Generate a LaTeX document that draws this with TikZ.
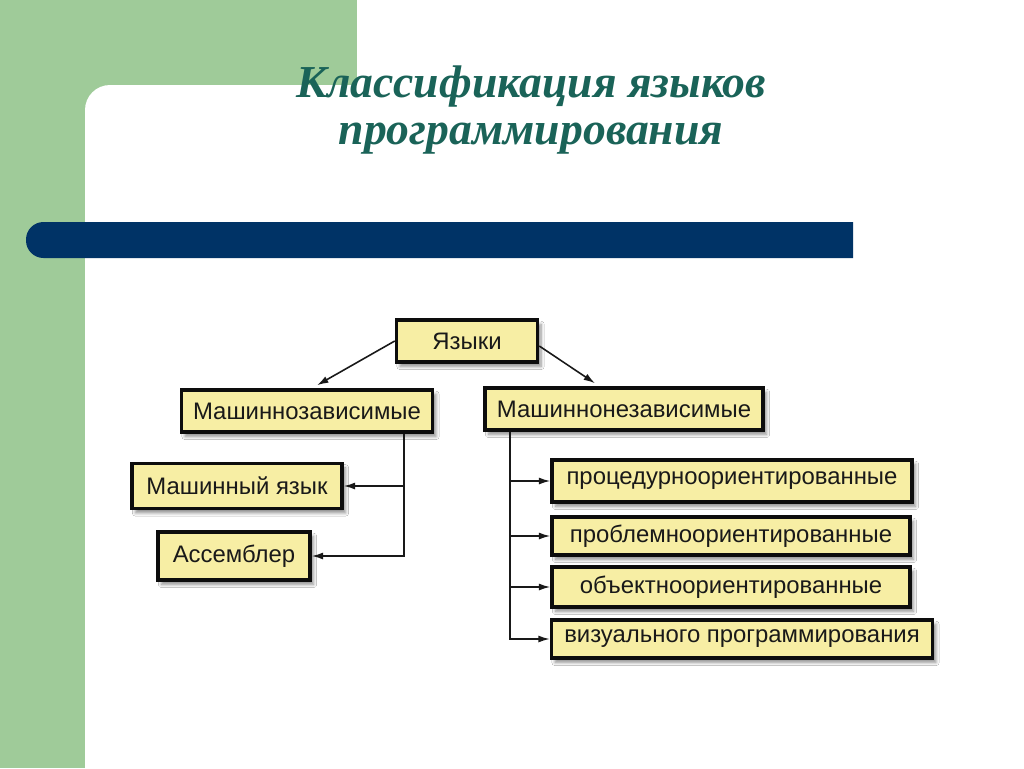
\documentclass[tikz,border=0pt]{standalone}
\usepackage{fontspec}
\setmainfont{Liberation Serif}
\setsansfont{Liberation Sans}
\usepackage{xcolor}
\usepackage{tikz}
\usetikzlibrary{shapes,arrows,arrows.meta,positioning,fit,calc,shadows.blur}

\definecolor{slidegreen}{HTML}{9FCB99}
\definecolor{barblue}{HTML}{003366}
\definecolor{titleteal}{HTML}{1A6358}
\definecolor{boxfill}{HTML}{F7EEA4}

\begin{document}
\begin{tikzpicture}[
    x=0.02cm, y=-0.02cm,
    box/.style={rectangle, draw=black!95, line width=2pt, fill=boxfill, minimum height=0.84cm, inner sep=2pt,
        font=\sffamily\fontsize{13.6}{16}\selectfont, text=black!90,
        blur shadow={shadow xshift=2pt, shadow yshift=-2.5pt, shadow blur steps=6, shadow opacity=45}},
    conn/.style={draw=black!90, line width=0.9pt, -{Latex[length=6.5pt, width=4pt]}},
    title/.style={font=\bfseries\itshape\fontsize{26}{30}\selectfont, text=titleteal, anchor=base}
]
    \useasboundingbox (0,0) rectangle (1024,768);

    % Slide background
    \fill[white] (0,0) rectangle (1024,768);
    \fill[slidegreen] (0,0) rectangle (357,110);
    \fill[slidegreen] (0,0) rectangle (85,768);
    \fill[white] (1024,768) -- (85,768) [rounded corners=0.5cm] -- (85,85) [sharp corners] -- (1024,85) -- cycle;
    \fill[barblue] (853,222) [rounded corners=0.35cm] -- (26,222) -- (26,258) [sharp corners] -- (853,258) -- cycle;

    % Title
    \node[title] (title1) at (531,97) {Классификация языков};
    \node[title] (title2) at (531,144) {программирования};

    % Boxes
    \node[box, minimum width=2.82cm] (lang) at (467,341) {Языки};
    \node[box, minimum width=5.02cm] (mz) at (307,411) {Машиннозависимые};
    \node[box, minimum width=5.56cm] (mnz) at (624,409) {Машиннонезависимые};

    \node[box, minimum width=4.2cm, minimum height=0.9cm] (mach) at (237,486) {Машинный язык};
    \node[box, minimum width=3.04cm, minimum height=0.96cm] (asm) at (234,556) {Ассемблер};

    \node[box, minimum width=7.2cm] (proc) at (732,481) {процедурноориентированные};
    \node[box, minimum width=7.16cm, minimum height=0.76cm] (prob) at (731,536) {проблемноориентированные};
    \node[box, minimum width=7.16cm, minimum height=0.8cm] (obj) at (731,587) {объектноориентированные};
    \node[box, minimum width=7.62cm, minimum height=0.76cm] (vis) at (742,639) {визуального программирования};

    % Connectors
    \draw[conn] (lang.west) -- ([xshift=0.2cm, yshift=0.06cm]mz.north);
    \draw[conn] ([yshift=-0.1cm]lang.east) -- ([xshift=-0.58cm, yshift=0.06cm]mnz.north);

    \draw[conn] ([xshift=-0.6cm]mz.south east) |- (mach.east);
    \draw[conn] ([xshift=-0.6cm]mz.south east) |- (asm.east);

    \foreach \n in {proc,prob,obj,vis} {
        \draw[conn] ([xshift=0.54cm]mnz.south west) |- (\n.west);
    }

\end{tikzpicture}
\end{document}
